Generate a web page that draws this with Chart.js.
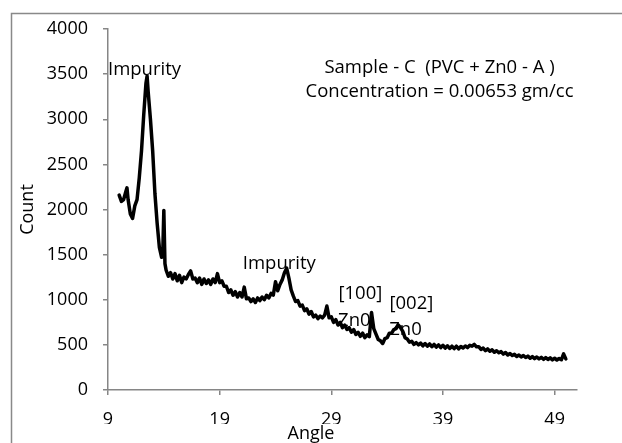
<!DOCTYPE html>
<html><head><meta charset="utf-8">
<script src="https://cdn.jsdelivr.net/npm/chart.js@4.4.1/dist/chart.umd.min.js"></script>
<style>html,body{margin:0;padding:0;background:#fff;}canvas{display:block;}</style>
</head><body>
<canvas id="c" width="622" height="443" style="width:622px;height:443px"></canvas>
<script>
// ---- data ----
const angles = [
10.0,10.2,10.4,10.6,10.7,10.8,11.0,11.2,11.4,11.6,11.8,12.0,12.2,12.4,12.5,12.6,12.8,13.0,13.2,13.4,
13.6,13.8,13.9,14.0,14.1,14.2,14.4,14.6,14.8,15.0,15.2,15.4,15.6,15.8,16.0,16.2,16.4,16.6,16.8,17.0,
17.2,17.4,17.6,17.8,18.0,18.2,18.4,18.6,18.8,19.0,19.2,19.4,19.6,19.8,20.0,20.2,20.4,20.6,20.8,21.0,
21.2,21.4,21.6,21.8,22.0,22.2,22.4,22.6,22.8,23.0,23.2,23.4,23.6,23.8,24.0,24.2,24.4,24.6,24.8,25.0,
25.2,25.4,25.6,25.8,26.0,26.2,26.4,26.6,26.8,27.0,27.2,27.4,27.6,27.8,28.0,28.2,28.4,28.6,28.8,29.0,
29.2,29.4,29.6,29.8,30.0,30.2,30.4,30.6,30.8,31.0,31.2,31.4,31.6,31.8,32.0,32.2,32.4,32.6,32.8,33.0,
33.2,33.4,33.6,33.8,34.0,34.2,34.4,34.6,34.8,35.0,35.2,35.4,35.6,35.8,36.0,36.2,36.4,36.6,36.8,37.0,
37.2,37.4,37.6,37.8,38.0,38.2,38.4,38.6,38.8,39.0,39.2,39.4,39.6,39.8,40.0,40.2,40.4,40.6,40.8,41.0,
41.2,41.4,41.6,41.8,42.0,42.2,42.4,42.6,42.8,43.0,43.2,43.4,43.6,43.8,44.0,44.2,44.4,44.6,44.8,45.0,
45.2,45.4,45.6,45.8,46.0,46.2,46.4,46.6,46.8,47.0,47.2,47.4,47.6,47.8,48.0,48.2,48.4,48.6,48.8,49.0,
49.2,49.4,49.6,49.8,50.0
];
const counts = [
2160,2090,2110,2200,2240,2110,1950,1900,2040,2110,2350,2650,3050,3400,3480,3300,3000,2650,2180,1850,
1580,1470,1500,1990,1400,1330,1260,1300,1230,1290,1210,1270,1190,1250,1230,1280,1320,1230,1240,1190,
1240,1170,1230,1180,1220,1170,1230,1190,1290,1190,1210,1150,1150,1080,1110,1050,1090,1030,1080,1030,
1140,1010,1020,980,1010,970,1020,990,1030,1000,1050,1020,1070,1050,1200,1100,1170,1220,1300,1350,
1240,1110,1040,980,990,930,940,880,900,840,870,810,830,790,820,800,830,930,800,810,
750,780,720,750,690,720,670,690,640,670,615,640,595,630,580,610,590,860,680,620,
560,545,515,570,580,630,630,670,680,720,690,650,580,565,530,540,505,525,500,520,
490,515,485,510,480,505,475,500,470,495,465,490,460,485,458,485,455,482,465,488,
470,495,485,505,478,480,450,465,435,455,430,445,418,435,412,425,398,415,388,405,
382,395,372,388,366,382,360,375,352,370,348,366,345,362,340,360,338,356,334,352,
332,350,335,400,345
];
const xTickValues = [9, 19, 29, 39, 49];
const yTickValues = [0, 500, 1000, 1500, 2000, 2500, 3000, 3500, 4000];
const xTitle = 'Angle';
const yTitle = 'Count';
const noteTexts = ['Impurity', 'Sample - C  (PVC + Zn0 - A )', 'Concentration = 0.00653 gm/cc',
                   'Impurity', '[100]', 'Zn0', '[002]', 'Zn0'];

// ---- placement of the notes (data units) ----
const notePlacement = [
  {x: 9.0,   y: 3487, align: 'left'},
  {x: 38.69, y: 3516, align: 'center'},
  {x: 38.69, y: 3247, align: 'center'},
  {x: 24.34, y: 1341, align: 'center'},
  {x: 31.6,  y: 1008, align: 'center'},
  {x: 31.06, y: 709,  align: 'center'},
  {x: 36.17, y: 898,  align: 'center'},
  {x: 35.64, y: 609,  align: 'center'}
];

const FONT = "'Open Sans', sans-serif";
Chart.defaults.font.family = FONT;
Chart.defaults.color = '#000';
const AXIS = '#868686';

const framePlugin = {
  id: 'frame',
  beforeDraw(chart) {
    const c = chart.ctx;
    c.save();
    c.fillStyle = '#fff';
    c.fillRect(0, 0, chart.width, chart.height);
    c.strokeStyle = '#898989';
    c.lineWidth = 1.5;
    c.strokeRect(11.5, 13.5, chart.width + 20, chart.height + 20);
    c.restore();
  }
};

const notesPlugin = {
  id: 'notes',
  afterDatasetsDraw(chart) {
    const c = chart.ctx, xs = chart.scales.x, ys = chart.scales.y;
    c.save();
    c.fillStyle = '#000';
    c.font = "18.5px " + FONT;
    c.textBaseline = 'alphabetic';
    noteTexts.forEach((t, i) => {
      const p = notePlacement[i];
      c.textAlign = p.align;
      c.fillText(t, xs.getPixelForValue(p.x), ys.getPixelForValue(p.y));
    });
    c.restore();
  }
};

new Chart(document.getElementById('c'), {
  type: 'line',
  data: {
    datasets: [{
      data: angles.map((a, i) => ({x: a, y: counts[i]})),
      borderColor: '#000',
      borderWidth: 3.5,
      borderJoinStyle: 'round',
      borderCapStyle: 'round',
      pointRadius: 0,
      tension: 0,
      fill: false
    }]
  },
  options: {
    responsive: false,
    animation: false,
    layout: {padding: {top: 29, right: 0, left: 0, bottom: 0}},
    plugins: {
      legend: {display: false},
      tooltip: {enabled: false},
      title: {
        display: true, text: xTitle, position: 'bottom', color: '#000',
        font: {size: 18, weight: 'normal', lineHeight: 1},
        padding: {top: 1, bottom: 0}
      }
    },
    scales: {
      x: {
        type: 'linear', min: 9, max: 51,
        afterBuildTicks: s => { s.ticks = xTickValues.map(v => ({value: v})); },
        afterFit: s => { s.height = 34; },
        grid: {display: true, drawOnChartArea: false, drawTicks: true, tickLength: 5, color: AXIS, lineWidth: 1.5},
        border: {display: true, color: AXIS, width: 1.5},
        ticks: {autoSkip: false, maxRotation: 0, padding: 14, color: '#000', font: {size: 18},
                callback: v => String(v)}
      },
      y: {
        type: 'linear', min: 0, max: 4000,
        afterBuildTicks: s => { s.ticks = yTickValues.map(v => ({value: v})); },
        afterFit: s => { s.width = 108; },
        grid: {display: true, drawOnChartArea: false, drawTicks: true, tickLength: 5, color: AXIS, lineWidth: 1.5},
        border: {display: true, color: AXIS, width: 1.5},
        ticks: {padding: 15, color: '#000', font: {size: 18}, callback: v => String(v)},
        title: {display: true, text: yTitle, color: '#000', font: {size: 18, lineHeight: 1}, padding: {top: 19, bottom: 0}}
      },
      yRight: {
        type: 'linear', position: 'right', display: true,
        afterFit: s => { s.width = 45; },
        grid: {display: false, drawTicks: false},
        border: {display: false},
        ticks: {display: false}
      }
    }
  },
  plugins: [framePlugin, notesPlugin]
});
</script>
</body></html>
